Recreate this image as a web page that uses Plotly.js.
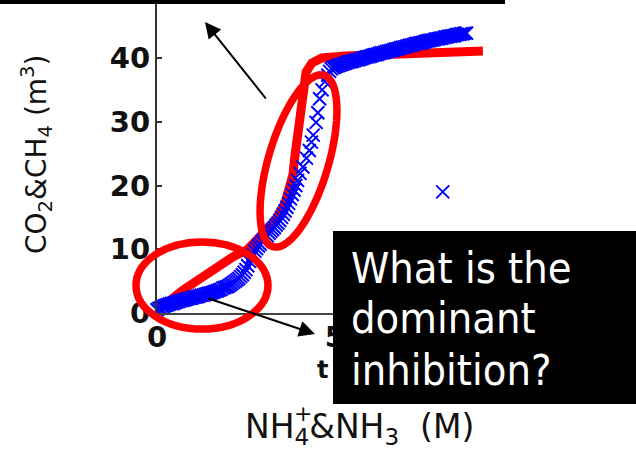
<!DOCTYPE html>
<html>
<head>
<meta charset="utf-8">
<script src="https://cdn.plot.ly/plotly-3.0.1.min.js"></script>
<style>
  html, body { margin: 0; padding: 0; background: #ffffff; }
  #chart { width: 636px; height: 452px; }
</style>
</head>
<body>
<div id="chart"></div>
<script>
// Measured biogas volume (blue crosses), one point per sampling time
const T_OBS = [
  0.00, 0.05, 0.10, 0.15, 0.20, 0.25, 0.30, 0.35, 0.40, 0.45,
  0.50, 0.55, 0.60, 0.65, 0.70, 0.75, 0.80, 0.85, 0.90, 0.95,
  1.00, 1.05, 1.10, 1.15, 1.20, 1.25, 1.30, 1.35, 1.40, 1.45,
  1.50, 1.55, 1.60, 1.65, 1.70, 1.75, 1.80, 1.85, 1.90, 1.95,
  2.00, 2.05, 2.10, 2.15, 2.20, 2.25, 2.30, 2.35, 2.40, 2.45,
  2.50, 2.55, 2.60, 2.65, 2.70, 2.75, 2.80, 2.85, 2.90, 2.95,
  3.00, 3.05, 3.10, 3.15, 3.20, 3.25, 3.30, 3.35, 3.40, 3.45,
  3.50, 3.55, 3.60, 3.65, 3.70, 3.75, 3.80, 3.85, 3.90, 3.95,
  4.02, 4.10, 4.20, 4.28, 4.34, 4.39, 4.47, 4.52, 4.57, 4.64,
  4.72, 4.80, 4.85,
  4.90, 4.95, 5.00, 5.05, 5.10, 5.15, 5.20, 5.25, 5.30, 5.35,
  5.40, 5.45, 5.50, 5.55, 5.60, 5.65, 5.70, 5.75, 5.80, 5.85,
  5.90, 5.95, 6.00, 6.05, 6.10, 6.15, 6.20, 6.25, 6.30, 6.35,
  6.40, 6.45, 6.50, 6.55, 6.60, 6.65, 6.70, 6.75, 6.80, 6.85,
  6.90, 6.95, 7.00, 7.05, 7.10, 7.15, 7.20, 7.25, 7.30, 7.35,
  7.40, 7.45, 7.50, 7.55, 7.60, 7.65, 7.70, 7.75, 7.80, 7.85,
  7.90, 7.95, 8.00, 8.05, 8.10, 8.15, 8.20, 8.25, 8.30, 8.35,
  8.40, 8.45, 8.50, 8.55, 8.60, 8.65, 8.70,
  8.03
];
const GAS_OBS = [
  0.5, 0.7, 0.8, 1.0, 1.1, 1.2, 1.3, 1.4, 1.5, 1.5,
  1.6, 1.7, 1.8, 1.9, 2.0, 2.0, 2.1, 2.2, 2.3, 2.3,
  2.4, 2.5, 2.5, 2.6, 2.7, 2.8, 2.8, 2.9, 3.0, 3.1,
  3.1, 3.2, 3.3, 3.4, 3.5, 3.6, 3.7, 3.9, 4.0, 4.1,
  4.2, 4.4, 4.6, 4.8, 5.0, 5.2, 5.4, 5.7, 6.0, 6.4,
  6.8, 7.4, 8.1, 8.7, 9.2, 9.7, 10.1, 10.5, 10.8, 11.2,
  11.5, 11.8, 12.1, 12.5, 12.8, 13.1, 13.4, 13.8, 14.1, 14.5,
  15.0, 15.5, 16.0, 16.6, 17.2, 17.9, 18.6, 19.3, 20.0, 20.8,
  21.9, 22.9, 24.3, 25.5, 26.8, 27.9, 29.9, 31.4, 33.6, 35.0,
  36.3, 37.3, 37.9,
  38.3, 38.5, 38.6, 38.7, 38.8, 38.9, 39.0, 39.1, 39.2, 39.3,
  39.4, 39.4, 39.5, 39.6, 39.7, 39.7, 39.8, 39.9, 40.0, 40.1,
  40.2, 40.2, 40.3, 40.4, 40.5, 40.5, 40.6, 40.7, 40.8, 40.8,
  40.9, 41.0, 41.1, 41.1, 41.2, 41.3, 41.4, 41.4, 41.5, 41.6,
  41.7, 41.7, 41.8, 41.9, 42.0, 42.0, 42.1, 42.2, 42.3, 42.3,
  42.4, 42.4, 42.5, 42.6, 42.7, 42.7, 42.8, 42.8, 42.9, 43.0,
  43.0, 43.1, 43.1, 43.2, 43.3, 43.3, 43.4, 43.4, 43.5, 43.5,
  43.6, 43.7, 43.7, 43.8, 43.8, 43.9, 43.9,
  19.0
];

// Simulated biogas volume (red curve)
const T_MODEL = [0, 0.37, 0.73, 1.21, 1.69, 2.13, 2.53, 2.95, 3.31, 3.60, 3.74, 3.82,
                 3.88, 3.93, 3.99, 4.04, 4.10, 4.19, 4.35, 4.63, 5.28, 6.83, 7.67, 9.16];
const GAS_MODEL = [0.8, 2.0, 3.6, 5.3, 7.4, 8.8, 9.9, 12.1, 14.4, 17.3, 19.6, 21.7,
                   24.8, 27.1, 30.3, 33.4, 35.8, 37.8, 39.2, 40.0, 40.3, 40.6, 40.9, 41.1];

const X_TICKS = [0, 5, 10];
const Y_TICKS = [0, 10, 20, 30, 40];
const QUESTION = ['What is the', 'dominant', 'inhibition?'];

// Figure geometry (pixels)
const W = 636, H = 452;
const M = { l: 157, r: 52, t: 0, b: 139 };
const PW = W - M.l - M.r, PH = H - M.t - M.b;
const px = v => (v - M.l) / PW;           // pixel x -> paper x
const py = v => (M.t + PH - v) / PH;       // pixel y -> paper y

// Tilted ellipse outline as a closed polyline path in paper units
function tiltedEllipse(cx, cy, a, b, ux, uy, n) {
  const vx = -uy, vy = ux;
  let d = '';
  for (let i = 0; i <= n; i++) {
    const t = 2 * Math.PI * i / n;
    const X = cx + a * Math.cos(t) * ux + b * Math.sin(t) * vx;
    const Y = cy + a * Math.cos(t) * uy + b * Math.sin(t) * vy;
    d += (i === 0 ? 'M' : 'L') + px(X).toFixed(5) + ',' + py(Y).toFixed(5);
  }
  return d + 'Z';
}

const RED = '#ff0000';
const BLUE = '#0000ff';

const traces = [
  {
    x: T_MODEL, y: GAS_MODEL, type: 'scatter', mode: 'lines',
    line: { color: RED, width: 9 }, cliponaxis: false, hoverinfo: 'skip'
  },
  {
    x: T_OBS, y: GAS_OBS, type: 'scatter', mode: 'markers',
    marker: { symbol: 'x-thin', size: 13, color: BLUE, line: { color: BLUE, width: 2 } },
    cliponaxis: false, hoverinfo: 'skip'
  }
];

const tickFont = { family: 'DejaVu Sans, sans-serif', size: 29, color: '#111', weight: 'bold' };
const textFont = 'DejaVu Sans, sans-serif';
const boxFont = { family: '"DejaVu Sans Condensed", "DejaVu Sans", sans-serif', size: 43, color: '#fff' };

const shapes = [
  // ellipse around the early, slow production phase
  { type: 'circle', xref: 'paper', yref: 'paper', layer: 'above',
    x0: px(136), x1: px(268), y0: py(329), y1: py(242),
    line: { color: RED, width: 7.5 } },
  // ellipse around the steep rise
  { type: 'path', xref: 'paper', yref: 'paper', layer: 'above',
    path: tiltedEllipse(298.5, 161, 89.5, 30, 0.285, -0.958, 96),
    line: { color: RED, width: 7.5 } },
  // black bar across the top
  { type: 'rect', xref: 'paper', yref: 'paper', layer: 'above',
    x0: px(0), x1: px(505), y0: py(4), y1: py(0),
    fillcolor: '#000', line: { width: 0 } },
  // question box
  { type: 'rect', xref: 'paper', yref: 'paper', layer: 'above',
    x0: px(333), x1: px(636), y0: py(404), y1: py(231),
    fillcolor: '#000', line: { width: 0 } }
];

const annotations = [
  { xref: 'paper', yref: 'paper', x: px(37), y: py(154), xanchor: 'center', yanchor: 'middle',
    textangle: -90, showarrow: false, font: { family: textFont, size: 28, color: '#111' },
    text: 'CO<sub>2</sub>&amp;CH<sub>4</sub> (m<sup>3</sup>)' },
  { xref: 'paper', yref: 'paper', x: px(359), y: py(428), xanchor: 'center', yanchor: 'middle',
    showarrow: false, font: { family: textFont, size: 33, color: '#111' },
    text: 'NH<sub>4</sub>&amp;NH<sub>3</sub>  (M)' },
  { xref: 'paper', yref: 'paper', x: px(303), y: py(413), xanchor: 'center', yanchor: 'middle',
    showarrow: false, font: { family: textFont, size: 22, color: '#111' },
    text: '+' },
  { xref: 'paper', yref: 'paper', x: px(322), y: py(370), xanchor: 'center', yanchor: 'middle',
    showarrow: false, font: { family: textFont, size: 24, color: '#111', weight: 'bold' },
    text: 't' },
  // arrows
  { xref: 'paper', yref: 'paper', x: px(205), y: py(22), ax: 62, ay: 78, text: '',
    showarrow: true, arrowhead: 2, arrowsize: 1.6, arrowwidth: 2, arrowcolor: '#000' },
  { xref: 'paper', yref: 'paper', x: px(315), y: py(334), ax: -108, ay: -36, text: '',
    showarrow: true, arrowhead: 2, arrowsize: 1.6, arrowwidth: 2, arrowcolor: '#000' }
];

// question text, one annotation per line
const LINE_CENTERS = [268, 318, 370];
QUESTION.forEach((line, i) => {
  annotations.push({
    xref: 'paper', yref: 'paper', x: px(349), y: py(LINE_CENTERS[i]),
    xanchor: 'left', yanchor: 'middle', align: 'left', showarrow: false,
    font: boxFont, text: line
  });
});

const layout = {
  width: W, height: H,
  margin: M,
  paper_bgcolor: '#fff', plot_bgcolor: '#fff',
  showlegend: false,
  xaxis: {
    range: [0, 12], tickvals: X_TICKS, ticktext: X_TICKS.map(String),
    showgrid: false, zeroline: false, showline: true, linecolor: '#444', linewidth: 2,
    ticks: 'inside', ticklen: 5, tickwidth: 2, tickcolor: '#444',
    tickfont: tickFont, ticklabelstandoff: -3, fixedrange: true
  },
  yaxis: {
    range: [0, PH / 6.375], tickvals: Y_TICKS, ticktext: Y_TICKS.map(String),
    showgrid: false, zeroline: false, showline: true, linecolor: '#333', linewidth: 2,
    ticks: 'inside', ticklen: 5, tickwidth: 2, tickcolor: '#333',
    tickfont: tickFont, ticklabelstandoff: -1, fixedrange: true
  },
  shapes: shapes,
  annotations: annotations
};

Plotly.newPlot('chart', traces, layout, { staticPlot: true, displayModeBar: false });
</script>
</body>
</html>
